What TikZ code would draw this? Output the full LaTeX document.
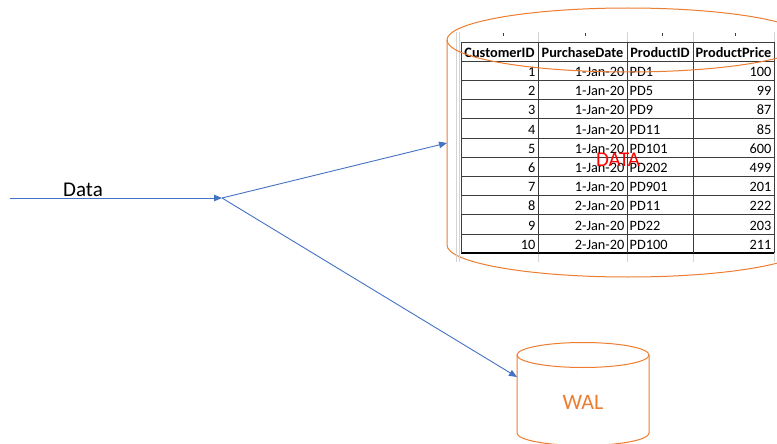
\documentclass[tikz,border=0pt]{standalone}
\usepackage{fontspec}
\setmainfont{Carlito}
\usetikzlibrary{arrows.meta}
\definecolor{lineblue}{HTML}{4472C4}
\definecolor{cylorange}{HTML}{ED7D31}
\definecolor{gridgrey}{HTML}{D4D4D4}
\definecolor{celldark}{HTML}{3C3C3C}
\definecolor{selgreen}{HTML}{217346}
\tikzset{
  conn/.style={draw=lineblue, line width=0.9pt, -{Triangle[length=8pt,width=6.5pt]}},
  cyl/.style={draw=cylorange, line width=1pt},
  cell/.style={font=\fontsize{14.3}{16}\selectfont, inner sep=0pt},
  hcell/.style={font=\fontsize{14.3}{16}\selectfont\bfseries, inner sep=0pt, anchor=base},
  cellline/.style={draw=celldark, line width=0.9pt},
  faint/.style={draw=gridgrey, line width=0.8pt}
}
\begin{document}
\begin{tikzpicture}[x=1pt,y=-1pt]
\useasboundingbox (0,0) rectangle (777,444);
\clip (0,0) rectangle (777,444);
\fill[white] (0,0) rectangle (777,444);

% big cylinder sides and bottom arc
\draw[cyl] (447,40) -- (447,245) arc[start angle=180,end angle=0,x radius=181,y radius=32] -- (809,40);

% faint spreadsheet grid
\draw[faint] (456,32) -- (456,262);
\draw[faint] (459,32) -- (459,262);
\foreach \gx in {538,627,693,774} {
  \draw[faint] (\gx,32) -- (\gx,42);
  \draw[faint] (\gx,253) -- (\gx,262);
}
\foreach \mx in {503,585,662,735} {
  \draw[celldark, line width=1pt] (\mx,33) -- (\mx,36);
}

% table grid
\foreach \k in {0,...,10} {
  \draw[cellline] (461,{42+19.2*\k}) -- (774,{42+19.2*\k});
}
\draw[draw=black, line width=1.3pt] (461,253) -- (774,253);
\foreach \gx in {461,538,627,693,774} {
  \draw[cellline] (\gx,42) -- (\gx,253);
}
\draw[selgreen, line width=1.4pt] (461.5,196) -- (461.5,214);

% header
\node[hcell] (hCust) at (499.5,57.5) {CustomerID};
\node[hcell] (hDate) at (582.5,57.5) {PurchaseDate};
\node[hcell] (hProd) at (660,57.5) {ProductID};
\node[hcell] (hPrice) at (733.5,57.5) {ProductPrice};

% rows
\foreach \i/\d/\p/\q in {1/1-Jan-20/PD1/100, 2/1-Jan-20/PD5/99, 3/1-Jan-20/PD9/87, 4/1-Jan-20/PD11/85, 5/1-Jan-20/PD101/600, 6/1-Jan-20/PD202/499, 7/1-Jan-20/PD901/201, 8/2-Jan-20/PD11/222, 9/2-Jan-20/PD22/203, 10/2-Jan-20/PD100/211} {
  \node[cell, anchor=base east] (id\i) at (535.5,{42+19.2*\i+15.3}) {\i};
  \node[cell, anchor=base east] (dt\i) at (624.5,{42+19.2*\i+15.3}) {\d};
  \node[cell, anchor=base west] (pd\i) at (629.5,{42+19.2*\i+15.3}) {\p};
  \node[cell, anchor=base east] (pr\i) at (771.5,{42+19.2*\i+15.3}) {\q};
}

% top ellipse over table
\draw[cyl] (628,40) ellipse[x radius=181,y radius=32];

\node[text=red, font=\fontsize{21}{24}\selectfont, inner sep=0pt] (dataLbl) at (618,160) {DATA};

% WAL cylinder
\draw[cyl] (517,355) -- (517,433) arc[start angle=180,end angle=0,x radius=66,y radius=12.5] -- (649,355);
\draw[cyl] (583,355) ellipse[x radius=66,y radius=12.5];
\node[text=cylorange, font=\fontsize{22}{26}\selectfont, inner sep=0pt] (walLbl) at (583,402) {WAL};

% connectors
\coordinate (src) at (10,198);
\coordinate (split) at (222,198);
\coordinate (dataIn) at (447,143);
\coordinate (walIn) at (517,377);
\draw[conn] (src) -- (split);
\draw[conn] (split) -- (dataIn);
\draw[conn] (split) -- (walIn);
\node[font=\fontsize{21}{24}\selectfont, inner sep=0pt, anchor=base west] (dataTxt) at (63,196) {Data};
\end{tikzpicture}
\end{document}
